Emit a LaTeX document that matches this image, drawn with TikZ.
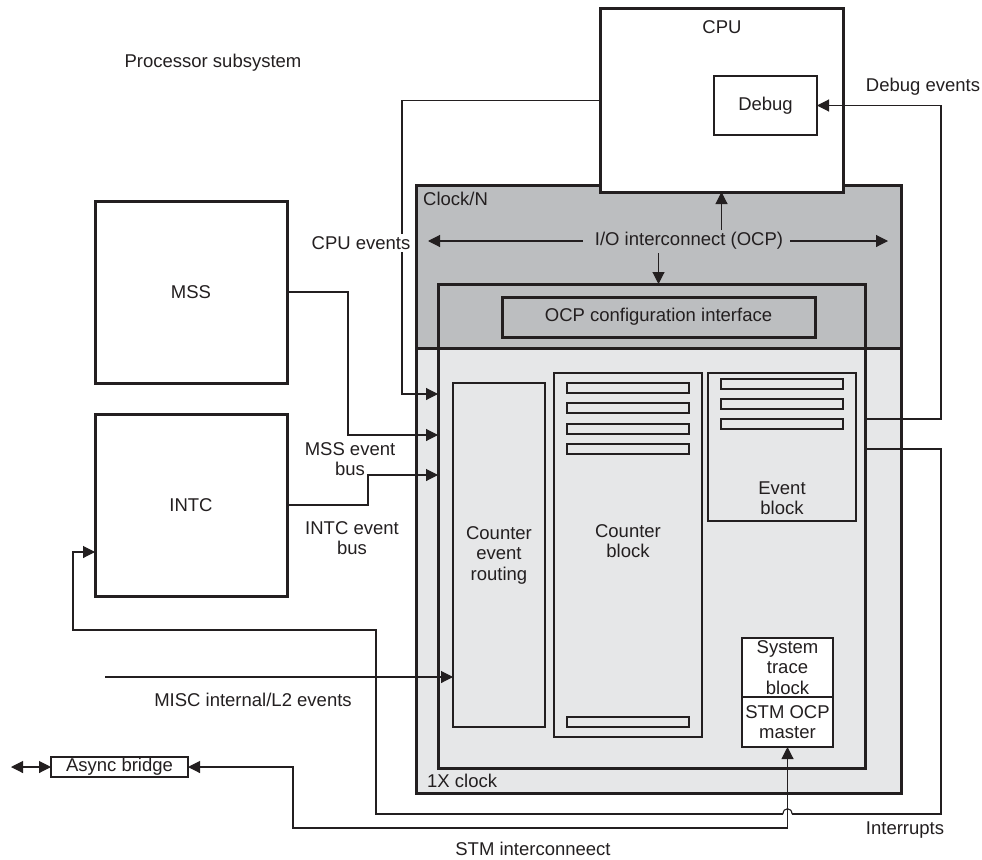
\documentclass[tikz,border=0pt]{standalone}
\usepackage{fontspec}
\setmainfont{Liberation Sans}
\usetikzlibrary{arrows.meta}
\definecolor{ln}{HTML}{231F20}
\definecolor{darkg}{HTML}{BCBEC0}
\definecolor{lightg}{HTML}{E6E7E8}
\begin{document}
\begin{tikzpicture}[x=1pt,y=-1pt,
  font=\fontsize{18.5}{20.5}\selectfont,
  every node/.style={text=ln},
  thickbox/.style={draw=ln, line width=3pt, fill=white, inner sep=0pt, outer sep=0pt, anchor=north west, align=center},
  medbox/.style={draw=ln, line width=2.2pt, fill=lightg, inner sep=0pt, outer sep=0pt, anchor=north west, align=center},
  bar/.style={draw=ln, line width=1.2pt, fill=lightg, inner sep=0pt, outer sep=0pt, anchor=north west, minimum width=122pt, minimum height=10pt},
  lbl/.style={inner sep=0pt, align=center},
  conn/.style={draw=ln, line width=1.1pt},
  arr/.style={conn, -{Triangle[length=12pt,width=12pt]}},
  darr/.style={conn, {Triangle[length=12pt,width=12pt]}-{Triangle[length=12pt,width=12pt]}},
]
\useasboundingbox (0,0) rectangle (982,859);

\node[lbl] (ps) at (213,63) {Processor subsystem};

% Clock/N region
\fill[darkg] (416,185) rectangle (901,348);
\fill[lightg] (416,348) rectangle (901,793);
\node[thickbox, fill=none, minimum width=485pt, minimum height=608pt] (clk) at (416,185) {};
\coordinate (sepy) at (0,348);
\draw[ln, line width=3pt] (clk.west |- sepy) -- (clk.east |- sepy);
\node[lbl, anchor=west] (clkn) at (423,199) {Clock/N};
\node[lbl, anchor=west] (onex) at (427,781) {1X clock};

% CPU
\node[thickbox, minimum width=243pt, minimum height=183pt] (cpu) at (600,9) {};
\node[lbl] (cpul) at (722,27) {CPU};
\node[thickbox, line width=2.3pt, minimum width=103pt, minimum height=59pt] (dbg) at (714,76) {Debug};

% inner box
\node[thickbox, fill=none, minimum width=427pt, minimum height=484pt] (inner) at (438,284) {};
\node[thickbox, fill=darkg, minimum width=313pt, minimum height=40pt] (ocp) at (502,297) {OCP configuration interface};

% I/O interconnect
\node[lbl] (io) at (689,241) {I/O interconnect (OCP)};
\coordinate (ioL) at (428,241);
\coordinate (ioR) at (888,241);
\coordinate (ioTop) at (0,230);
\coordinate (ioBot) at (0,253);
\draw[arr] ([xshift=-12pt]io.west) -- (ioL);
\draw[arr] ([xshift=7pt]io.east) -- (ioR);
\draw[arr] (cpu.south |- ioTop) -- (cpu.south);
\draw[arr] (ocp.north |- ioBot) -- (ocp.north |- inner.north);

% blocks
\node[medbox, minimum width=92pt, minimum height=344pt] (cer) at (453,383) {Counter\\event\\routing};
\node[medbox, minimum width=148pt, minimum height=364pt] (cb) at (554,373) {};
\node[lbl] (cbl) at (628,541) {Counter\\block};
\foreach \y [count=\i] in {383,403,424,444,717} \node[bar] (cbar\i) at (567,\y) {};
\node[medbox, minimum width=148pt, minimum height=148pt] (eb) at (708,373) {};
\node[lbl] (ebl) at (782,498) {Event\\block};
\foreach \y [count=\i] in {379,399,419} \node[bar] (ebar\i) at (721,\y) {};
\node[thickbox, line width=1.6pt, minimum width=91pt, minimum height=59pt] (stb) at (742,638) {System\\trace\\block};
\node[thickbox, line width=1.6pt, minimum width=91pt, minimum height=50pt] (stm) at (742,697) {STM OCP\\master};

% MSS, INTC
\node[thickbox, minimum width=192pt, minimum height=182pt] (mss) at (95,201) {MSS};
\node[thickbox, minimum width=192pt, minimum height=182pt] (intc) at (95,414) {INTC};

% Async bridge
\node[thickbox, line width=1.3pt, minimum width=137pt, minimum height=20pt] (async) at (51,757) {Async bridge};

% connectors
\coordinate (cpuevx) at (402,394);
\draw[arr] (cpu.west) -| (cpuevx) -- (inner.west |- cpuevx);
\coordinate (mssx) at (348,435);
\draw[arr] (mss.east) -| (mssx) -- (inner.west |- mssx);
\coordinate (intcx) at (368,475);
\draw[arr] (intc.east) -| (intcx) -- (inner.west |- intcx);
\coordinate (miscs) at (105,677);
\draw[arr] (miscs) -- (cer.west |- miscs);

\coordinate (dbgy) at (0,419);
\coordinate (rx) at (941,0);
\draw[arr] (inner.east |- dbgy) -- (rx |- dbgy) -- (rx |- dbg.east) -- (dbg.east);

\coordinate (inty) at (0,449);
\coordinate (intbot) at (0,814);
\coordinate (hopR) at (792,814);
\coordinate (hopL) at (783,814);
\coordinate (intlx) at (376,630);
\coordinate (intx2) at (73,552);
\draw[conn] (inner.east |- inty) -- (rx |- inty) -- (rx |- intbot) -- (hopR);
\draw[conn] (hopR) .. controls (792,807) and (783,807) .. (hopL);
\draw[arr] (hopL) -- (intlx |- intbot) -- (intlx) -| (intx2) -- (intc.west |- intx2);

\coordinate (stmy) at (0,828);
\coordinate (abx) at (293,767);
\draw[darr] (async.east) -- (abx) |- (stm.south |- stmy) -- (stm.south);
\coordinate (abL) at (11,767);
\draw[darr] (abL) -- (async.west);

% labels
\node[lbl, fill=white, inner sep=2pt] (cpuev) at (361,243) {CPU events};
\node[lbl] (mssev) at (350,459) {MSS event\\bus};
\node[lbl] (intcev) at (352,538) {INTC event\\bus};
\node[lbl] (dbgev) at (923,87) {Debug events};
\node[lbl] (intr) at (905,830) {Interrupts};
\node[lbl] (stmic) at (533,849) {STM interconneect};
\node[lbl] (misc) at (253,700) {MISC internal/L2 events};
\end{tikzpicture}
\end{document}
